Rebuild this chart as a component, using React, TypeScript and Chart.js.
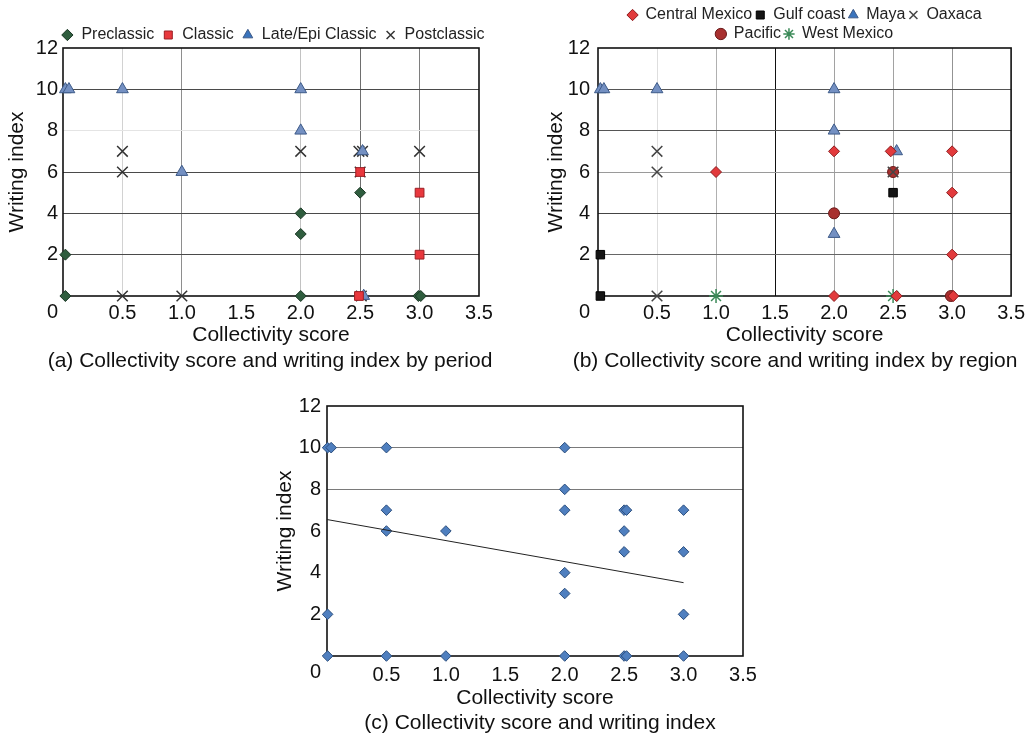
import React, { useEffect, useRef } from 'react';
import { Chart, registerables } from 'chart.js';

Chart.register(...registerables);

const FONT = '"Liberation Sans", Arial, Helvetica, sans-serif';

// ---------- shared axis values ----------
const xMin = 0;
const xMax = 3.5;
const xStep = 0.5;
const yMin = 0;
const yMax = 12;
const yStep = 2;

// ---------- (a) by period ----------
const preclassicX = [0.02, 0.02, 2, 2, 2, 2.5, 2.99, 3.01];
const preclassicY = [0, 2, 0, 3, 4, 5, 0, 0];
const classicX = [2.5, 3, 3, 2.49];
const classicY = [6, 5, 2, 0];
const lateEpiX = [0.02, 0.05, 0.5, 1, 2, 2, 2.52, 2.53];
const lateEpiY = [10, 10, 10, 6, 10, 8, 7, 0];
const postclassicX = [0.5, 0.5, 0.5, 1, 2, 2.49, 2.52, 3, 2.5, 2.51];
const postclassicY = [7, 6, 0, 0, 7, 7, 7, 7, 6, 0];

// ---------- (b) by region ----------
const centralMexicoX = [1, 2, 2, 2.48, 3, 3, 3, 3.01, 2.53];
const centralMexicoY = [6, 7, 0, 7, 7, 5, 2, 0, 0];
const gulfCoastX = [0.02, 0.02, 2.5];
const gulfCoastY = [2, 0, 5];
const mayaX = [0.02, 0.05, 0.5, 2, 2, 2, 2.53];
const mayaY = [10, 10, 10, 10, 8, 3, 7];
const oaxacaX = [0.5, 0.5, 0.5, 2.5];
const oaxacaY = [7, 6, 0, 6];
const pacificX = [2, 2.5, 2.99];
const pacificY = [4, 6, 0];
const westMexicoX = [1, 2.5];
const westMexicoY = [0, 0];

// ---------- (c) all sites + trend ----------
const allX = [0.005, 0.035, 0.005, 0.005, 0.5, 0.5, 0.5, 0.5, 1, 1, 2, 2, 2, 2, 2, 2, 2.5, 2.52, 2.5, 2.5, 2.5, 2.52, 3, 3, 3, 3];
const allY = [10, 10, 2, 0, 10, 7, 6, 0, 6, 0, 10, 8, 7, 4, 3, 0, 7, 7, 6, 5, 0, 0, 7, 5, 2, 0];
const trendX = [0, 3];
const trendY = [6.55, 3.52];

const pts = (xs: number[], ys: number[]) => xs.map((x, i) => ({ x, y: ys[i] }));

const frame = {
  id: 'frame',
  beforeDatasetsDraw(chart: any) {
    const { ctx, chartArea: a } = chart;
    ctx.save();
    ctx.strokeStyle = '#111';
    ctx.lineWidth = 1.6;
    ctx.strokeRect(a.left, a.top, a.right - a.left, a.bottom - a.top);
    ctx.restore();
  },
};

const CLEAR = 'rgba(0,0,0,0)';

function series(label: string, xs: number[], ys: number[], style: string, radius: number, fill: string, stroke: string, width = 1) {
  return {
    label,
    data: pts(xs, ys),
    pointStyle: style,
    pointRadius: radius,
    pointHoverRadius: radius,
    backgroundColor: fill,
    borderColor: stroke,
    pointBorderWidth: width,
    borderWidth: width,
    clip: false,
  };
}

type Cfg = {
  yWidth: number;
  yTickPad: number;
  yTitlePad: number;
  xHeight: number;
  xTickPad: number;
  xGrid: (v: number) => string;
  yGrid: (v: number) => string;
};

function scales(c: Cfg) {
  return {
    x: {
      type: 'linear',
      min: xMin,
      max: xMax,
      afterFit: (s: any) => {
        s.height = c.xHeight;
      },
      border: { display: false },
      grid: {
        drawTicks: false,
        lineWidth: 1,
        color: (ctx: any) => (ctx.tick ? c.xGrid(ctx.tick.value) : CLEAR),
      },
      ticks: {
        stepSize: xStep,
        autoSkip: false,
        maxRotation: 0,
        padding: c.xTickPad,
        color: '#111',
        font: { family: FONT, size: 20 },
        callback: (v: any) => (Number(v) === 0 ? '' : Number(v).toFixed(1)),
      },
      title: {
        display: true,
        text: 'Collectivity score',
        color: '#111',
        font: { family: FONT, size: 21 },
        padding: { top: 0, bottom: 2 },
      },
    },
    y: {
      type: 'linear',
      min: yMin,
      max: yMax,
      afterFit: (s: any) => {
        s.width = c.yWidth;
      },
      border: { display: false },
      grid: {
        drawTicks: false,
        lineWidth: 1,
        color: (ctx: any) => (ctx.tick ? c.yGrid(ctx.tick.value) : CLEAR),
      },
      ticks: {
        stepSize: yStep,
        autoSkip: false,
        padding: c.yTickPad,
        color: '#111',
        font: { family: FONT, size: 20, lineHeight: 1.6 },
        callback: (v: any) => (Number(v) === 0 ? ['', '0'] : String(v)),
      },
      title: {
        display: true,
        text: 'Writing index',
        color: '#111',
        font: { family: FONT, size: 21 },
        padding: { top: c.yTitlePad, bottom: 0 },
      },
    },
  };
}

function legendLabels(fills: (string | null)[], box: number, pad: number) {
  return {
    usePointStyle: true,
    boxWidth: box,
    boxHeight: 8,
    padding: pad,
    color: '#222',
    font: { family: FONT, size: 16 },
    generateLabels: (chart: any) =>
      (Chart.defaults.plugins.legend.labels as any).generateLabels(chart).map((it: any, i: number) => ({
        ...it,
        fillStyle: fills[i] ?? it.fillStyle,
      })),
  };
}

function useChart(ref: React.RefObject<HTMLCanvasElement | null>, make: () => any) {
  useEffect(() => {
    if (!ref.current) return;
    const chart = new Chart(ref.current, make());
    return () => chart.destroy();
  }, []);
}

function ChartA() {
  const ref = useRef<HTMLCanvasElement>(null);
  useChart(ref, () => ({
    type: 'scatter',
    data: {
      datasets: [
        series('Preclassic', preclassicX, preclassicY, 'rectRot', 5.5, '#2f5d3e', '#1c3826'),
        series('Classic', classicX, classicY, 'rect', 6.2, '#e8383d', '#9c1f24'),
        series('Late/Epi Classic', lateEpiX, lateEpiY, 'triangle', 6.8, '#7490c2', '#3d5a88'),
        series('Postclassic', postclassicX, postclassicY, 'crossRot', 7.5, '#333', '#333', 1.5),
      ],
    },
    options: {
      responsive: false,
      animation: false,
      layout: { padding: { top: 19, left: 0, right: 0, bottom: 0 } },
      scales: {
        ...scales({
          yWidth: 63,
          yTickPad: 5,
          yTitlePad: 4.4,
          xHeight: 54,
          xTickPad: 5,
          xGrid: (v) =>
            ({ 0.5: '#d2d2d2', 1: '#8e8e8e', 2: '#c2c2c2', 2.5: '#6e6e6e', 3: '#7e7e7e' } as any)[v] ?? CLEAR,
          yGrid: (v) => (({ 2: '#4a4a4a', 4: '#4a4a4a', 6: '#4a4a4a', 8: '#e4e4e4', 10: '#4a4a4a' } as any)[v] ?? CLEAR),
        }),
        y2: {
          type: 'linear',
          position: 'right',
          display: true,
          afterFit: (s: any) => {
            s.width = 67;
          },
          grid: { display: false, drawTicks: false },
          border: { display: false },
          ticks: { display: false },
          title: { display: false },
        },
      },
      plugins: {
        legend: {
          display: true,
          position: 'top',
          fullSize: true,
          maxHeight: 29,
          labels: legendLabels([null, null, '#3a74bd', null], 12, 8),
        },
        tooltip: { enabled: false },
      },
    },
    plugins: [frame],
  }));
  return <canvas ref={ref} width={546} height={350} style={{ position: 'absolute', left: 0, top: 0 }} />;
}

function ChartB() {
  const ref = useRef<HTMLCanvasElement>(null);
  useChart(ref, () => ({
    type: 'scatter',
    data: {
      datasets: [
        series('Central Mexico', centralMexicoX, centralMexicoY, 'rectRot', 5.5, '#e23a3c', '#8e1e20'),
        series('Gulf coast', gulfCoastX, gulfCoastY, 'rect', 6, '#151515', '#000'),
        series('Maya', mayaX, mayaY, 'triangle', 6.8, '#7490c2', '#3d5a88'),
        series('Oaxaca', oaxacaX, oaxacaY, 'crossRot', 7.5, '#444', '#444', 1.5),
        series('Pacific', pacificX, pacificY, 'circle', 5.5, '#a8302f', '#6a1a1a'),
        series('West Mexico', westMexicoX, westMexicoY, 'star', 7, '#3b8a58', '#3b8a58', 1.5),
      ],
    },
    options: {
      responsive: false,
      animation: false,
      layout: { padding: { top: 4, left: 0, right: 18, bottom: 0 } },
      scales: scales({
        yWidth: 68,
        yTickPad: 8,
        yTitlePad: 13.4,
        xHeight: 54,
        xTickPad: 5,
        xGrid: (v) =>
          ({ 0.5: '#dedede', 1: '#b0b0b0', 1.5: '#111111', 2: '#a2a2a2', 2.5: '#a2a2a2', 3: '#939393' } as any)[v] ?? CLEAR,
        yGrid: (v) => (({ 2: '#666', 4: '#444', 6: '#9a9a9a', 8: '#555', 10: '#555' } as any)[v] ?? CLEAR),
      }),
      plugins: {
        legend: {
          display: true,
          position: 'top',
          fullSize: false,
          maxHeight: 44,
          labels: legendLabels([null, null, '#3a74bd', null, null, null], 10, 3),
        },
        tooltip: { enabled: false },
      },
    },
    plugins: [frame],
  }));
  return <canvas ref={ref} width={500} height={350} style={{ position: 'absolute', left: 530, top: 0 }} />;
}

function ChartC() {
  const ref = useRef<HTMLCanvasElement>(null);
  useChart(ref, () => ({
    type: 'scatter',
    data: {
      datasets: [
        {
          label: 'Trend',
          data: pts(trendX, trendY),
          showLine: true,
          borderColor: '#222',
          borderWidth: 1,
          pointRadius: 0,
          fill: false,
          clip: false,
        },
        series('Sites', allX, allY, 'rectRot', 5.3, '#4f7fbf', '#2c4f7e'),
      ],
    },
    options: {
      responsive: false,
      animation: false,
      layout: { padding: { top: 26, left: 0, right: 22, bottom: 0 } },
      scales: scales({
        yWidth: 62,
        yTickPad: 6,
        yTitlePad: 7.4,
        xHeight: 57,
        xTickPad: 7,
        xGrid: () => CLEAR,
        yGrid: (v) => (({ 8: '#7a7a7a', 10: '#7a7a7a' } as any)[v] ?? CLEAR),
      }),
      plugins: {
        legend: { display: false },
        tooltip: { enabled: false },
      },
    },
    plugins: [frame],
  }));
  return <canvas ref={ref} width={500} height={333} style={{ position: 'absolute', left: 265, top: 380 }} />;
}

const captionStyle: React.CSSProperties = {
  position: 'absolute',
  fontFamily: FONT,
  fontSize: 21,
  lineHeight: '24px',
  color: '#111',
  textAlign: 'center',
  whiteSpace: 'nowrap',
};

export default function App() {
  return (
    <div
      style={{
        position: 'absolute',
        left: 0,
        top: 0,
        width: 1030,
        height: 736,
        overflow: 'hidden',
        background: '#fff',
      }}
    >
      <ChartA />
      <ChartB />
      <ChartC />
      <div style={{ ...captionStyle, left: 0, top: 348, width: 540 }}>
        (a) Collectivity score and writing index by period
      </div>
      <div style={{ ...captionStyle, left: 545, top: 348, width: 500 }}>
        (b) Collectivity score and writing index by region
      </div>
      <div style={{ ...captionStyle, left: 290, top: 710, width: 500 }}>
        (c) Collectivity score and writing index
      </div>
    </div>
  );
}
